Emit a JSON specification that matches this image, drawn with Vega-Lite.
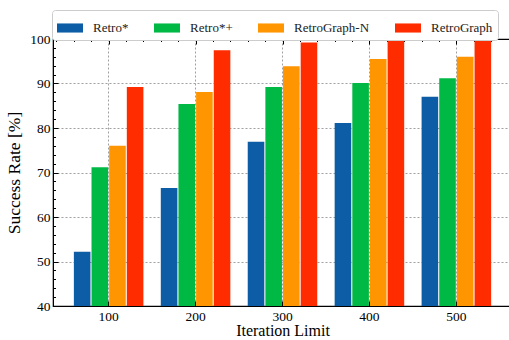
{
  "$schema": "https://vega.github.io/schema/vega-lite/v6.json",
  "width": 459,
  "height": 267,
  "autosize": "none",
  "padding": {"left": 53, "top": 39, "right": 0, "bottom": 34},
  "background": "white",
  "config": {
    "font": "Liberation Serif",
    "view": {"stroke": "black", "strokeWidth": 1.2},
    "axis": {"labelColor": "black", "titleColor": "black", "domainColor": "black", "tickColor": "black", "titleFontWeight": "normal", "labelFont": "Liberation Serif", "titleFont": "Liberation Serif"}
  },
  "data": {
    "values": [
      {"iteration": 100, "method": "Retro*", "rate": 52.2},
      {"iteration": 100, "method": "Retro*+", "rate": 71.2},
      {"iteration": 100, "method": "RetroGraph-N", "rate": 76.0},
      {"iteration": 100, "method": "RetroGraph", "rate": 89.2},
      {"iteration": 200, "method": "Retro*", "rate": 66.5},
      {"iteration": 200, "method": "Retro*+", "rate": 85.4},
      {"iteration": 200, "method": "RetroGraph-N", "rate": 88.1},
      {"iteration": 200, "method": "RetroGraph", "rate": 97.5},
      {"iteration": 300, "method": "Retro*", "rate": 76.9},
      {"iteration": 300, "method": "Retro*+", "rate": 89.2},
      {"iteration": 300, "method": "RetroGraph-N", "rate": 93.9},
      {"iteration": 300, "method": "RetroGraph", "rate": 99.2},
      {"iteration": 400, "method": "Retro*", "rate": 81.1},
      {"iteration": 400, "method": "Retro*+", "rate": 90.1},
      {"iteration": 400, "method": "RetroGraph-N", "rate": 95.5},
      {"iteration": 400, "method": "RetroGraph", "rate": 99.8},
      {"iteration": 500, "method": "Retro*", "rate": 87.0},
      {"iteration": 500, "method": "Retro*+", "rate": 91.2},
      {"iteration": 500, "method": "RetroGraph-N", "rate": 96.0},
      {"iteration": 500, "method": "RetroGraph", "rate": 99.8}
    ]
  },
  "layer": [
    {
      "mark": {"type": "bar", "clip": true},
      "encoding": {
        "x": {
          "field": "iteration",
          "type": "ordinal",
          "scale": {"paddingInner": 0.2, "paddingOuter": 0.24},
          "axis": {
            "title": "Iteration Limit",
            "titleFontSize": 16,
            "titlePadding": 0,
            "labelAngle": 0,
            "labelFontSize": 13.5,
            "labelPadding": 8,
            "tickSize": -5,
            "bandPosition": 0.5,
            "grid": true,
            "gridColor": "#888888",
            "gridDash": [2, 2],
            "gridWidth": 0.8
          }
        },
        "xOffset": {
          "field": "method",
          "type": "nominal",
          "sort": ["Retro*", "Retro*+", "RetroGraph-N", "RetroGraph"],
          "scale": {"paddingInner": 0.06, "paddingOuter": 0}
        },
        "y": {
          "field": "rate",
          "type": "quantitative",
          "scale": {"domain": [40, 100], "nice": false, "zero": false},
          "axis": {
            "title": "Success Rate [%]",
            "titleFontSize": 17.5,
            "titlePadding": 6,
            "labelFontSize": 13.5,
            "labelPadding": 8,
            "labelFlush": false,
            "values": [40, 42, 44, 46, 48, 50, 52, 54, 56, 58, 60, 62, 64, 66, 68, 70, 72, 74, 76, 78, 80, 82, 84, 86, 88, 90, 92, 94, 96, 98, 100],
            "labelExpr": "datum.value % 10 === 0 ? datum.label : ''",
            "tickSize": {"condition": {"test": "datum.value % 10 === 0", "value": -5}, "value": -2.5},
            "grid": true,
            "gridColor": "#888888",
            "gridDash": [2, 2],
            "gridWidth": 0.8,
            "gridOpacity": {"condition": {"test": "datum.value % 10 === 0 && datum.value > 40 && datum.value < 100", "value": 1}, "value": 0}
          }
        },
        "color": {
          "field": "method",
          "type": "nominal",
          "sort": ["Retro*", "Retro*+", "RetroGraph-N", "RetroGraph"],
          "scale": {"domain": ["Retro*", "Retro*+", "RetroGraph-N", "RetroGraph"], "range": ["#0C5DA5", "#00B945", "#FF9500", "#FF2C00"]},
          "legend": {
            "title": null,
            "orient": "none",
            "legendX": -1,
            "legendY": -29,
            "direction": "horizontal",
            "columns": 4,
            "symbolType": "M-1,-0.35H1V0.35H-1Z",
            "symbolSize": 676,
            "symbolStrokeWidth": 0,
            "labelFont": "Liberation Serif",
            "labelFontSize": 13,
            "labelColor": "#222222",
            "labelOffset": 10,
            "columnPadding": 25,
            "padding": 5,
            "strokeColor": "#cccccc",
            "fillColor": "white",
            "cornerRadius": 3
          }
        }
      }
    },
    {
      "mark": {"type": "point", "opacity": 0},
      "encoding": {
        "x": {
          "field": "iteration",
          "type": "quantitative",
          "scale": {"domain": [36, 564], "nice": false, "zero": false},
          "axis": {
            "orient": "top",
            "title": null,
            "labels": false,
            "grid": false,
            "values": [40, 60, 80, 100, 120, 140, 160, 180, 200, 220, 240, 260, 280, 300, 320, 340, 360, 380, 400, 420, 440, 460, 480, 500, 520, 540, 560],
            "tickSize": {"condition": {"test": "datum.value % 100 === 0", "value": -5}, "value": -2.5}
          }
        }
      }
    }
  ],
  "resolve": {"scale": {"x": "independent"}, "axis": {"x": "independent"}}
}
